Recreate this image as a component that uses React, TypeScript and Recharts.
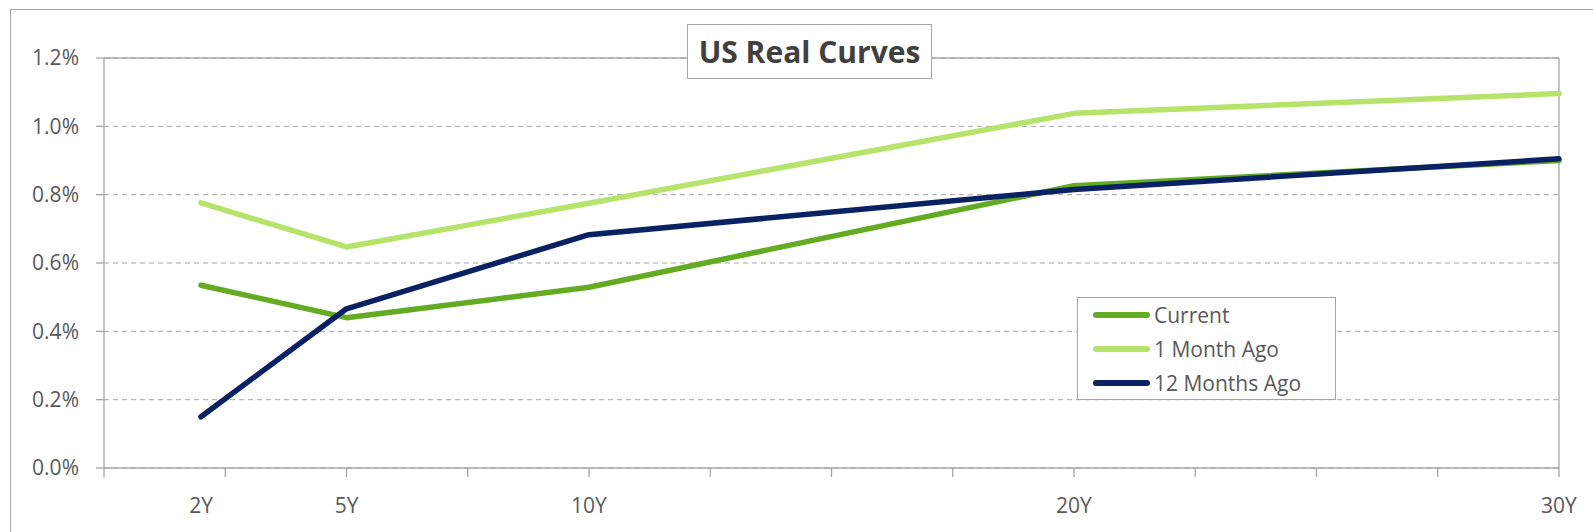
import React from 'react';
import { LineChart, Line, XAxis, YAxis, CartesianGrid, ReferenceLine, Legend } from 'recharts';

// ---- data ----
const tenorYears = [2, 5, 10, 20, 30];
const tenorLabels = ['2Y', '5Y', '10Y', '20Y', '30Y'];
const currentValues = [0.535, 0.44, 0.529, 0.826, 0.9];
const oneMonthAgoValues = [0.776, 0.647, 0.775, 1.038, 1.096];
const twelveMonthsAgoValues = [0.15, 0.466, 0.683, 0.815, 0.905];
const yTicks = [0, 0.2, 0.4, 0.6, 0.8, 1.0, 1.2];
const xMinorTicks = [0, 2.5, 5, 7.5, 10, 12.5, 15, 17.5, 20, 22.5, 25, 27.5, 30];
const seriesNames = ['Current', '1 Month Ago', '12 Months Ago'];
const seriesKeys = ['current', 'm1', 'm12'];
const seriesColors = ['#63AB22', '#B6E36A', '#0A2163'];
const title = 'US Real Curves';

const data = tenorYears.map((t, i) => ({
  t,
  current: currentValues[i],
  m1: oneMonthAgoValues[i],
  m12: twelveMonthsAgoValues[i],
}));
const xTicks = Array.from(new Set([...xMinorTicks, ...tenorYears])).sort((a, b) => a - b);

const AXIS = '#A6A6A6';
const TEXT = '#595959';
const FONT = '"Open Sans", sans-serif';

const XTick = (props: any) => {
  const { x, y, payload } = props;
  const v = payload.value;
  const isMinor = xMinorTicks.includes(v);
  const idx = tenorYears.indexOf(v);
  return (
    <g>
      {isMinor && <line x1={x} x2={x} y1={y - 9} y2={y} stroke={AXIS} strokeWidth={1.3} />}
      {idx >= 0 && (
        <text x={x} y={y + 36} textAnchor="middle" fill={TEXT} fontSize={21} fontFamily={FONT}>
          {tenorLabels[idx]}
        </text>
      )}
    </g>
  );
};

const renderLegend = (props: any) => {
  const payload = [...(props.payload || [])].sort(
    (a: any, b: any) => seriesNames.indexOf(a.value) - seriesNames.indexOf(b.value)
  );
  return (
    <div
      style={{
        border: `1px solid ${AXIS}`,
        background: '#fff',
        width: 259,
        height: 103,
        boxSizing: 'border-box',
        paddingTop: 0,
        fontFamily: FONT,
        fontSize: 21,
        color: TEXT,
      }}
    >
      {payload.map((p: any) => (
        <div key={p.value} style={{ display: 'flex', alignItems: 'center', height: 34 }}>
          <span
            style={{
              display: 'inline-block',
              width: 57,
              height: 6,
              borderRadius: 3,
              background: p.color,
              marginLeft: 15,
              marginRight: 4,
            }}
          />
          <span style={{ lineHeight: '34px' }}>{p.value}</span>
        </div>
      ))}
    </div>
  );
};

export default function App() {
  return (
    <div
      style={{
        position: 'absolute',
        left: 0,
        top: 0,
        width: 1593,
        height: 532,
        overflow: 'hidden',
        background: '#fff',
      }}
    >
      <div
        style={{
          position: 'absolute',
          left: 10,
          top: 9,
          width: 1620,
          height: 600,
          border: `1px solid ${AXIS}`,
        }}
      />
      <div style={{ position: 'absolute', left: 0, top: 0 }}>
        <LineChart width={1593} height={532} data={data} margin={{ top: 58, right: 34, left: 0, bottom: 0 }}>
          <CartesianGrid vertical={false} stroke={AXIS} strokeDasharray="5 4" horizontalValues={yTicks} />
          <XAxis
            dataKey="t"
            type="number"
            domain={[0, 30]}
            ticks={xTicks}
            interval={0}
            height={64}
            tickSize={9}
            tickMargin={0}
            tickLine={false}
            axisLine={{ stroke: AXIS, strokeWidth: 1.3 }}
            tick={<XTick />}
          />
          <YAxis
            type="number"
            domain={[0, 1.2]}
            ticks={yTicks}
            interval={0}
            width={104}
            tickSize={8}
            tickMargin={17}
            tickLine={{ stroke: AXIS, strokeWidth: 1.3 }}
            axisLine={{ stroke: AXIS, strokeWidth: 1.3 }}
            tick={{ fill: TEXT, fontSize: 21, fontFamily: FONT }}
            tickFormatter={(v: number) => v.toFixed(1) + '%'}
          />
          <ReferenceLine y={1.2} stroke={AXIS} strokeWidth={1.3} />
          <ReferenceLine x={30} stroke={AXIS} strokeWidth={1.3} />
          <Legend
            layout="vertical"
            align="center"
            verticalAlign="middle"
            content={renderLegend}
            wrapperStyle={{ position: 'absolute', left: 1077, top: 297, width: 259, height: 103 }}
          />
          {seriesKeys.map((k, i) => (
            <Line
              key={k}
              dataKey={k}
              name={seriesNames[i]}
              stroke={seriesColors[i]}
              strokeWidth={5.5}
              strokeLinecap="round"
              strokeLinejoin="round"
              dot={false}
              activeDot={false}
              isAnimationActive={false}
            />
          ))}
        </LineChart>
      </div>
      <div
        style={{
          position: 'absolute',
          left: 687,
          top: 24,
          width: 245,
          height: 55,
          boxSizing: 'border-box',
          border: `1px solid ${AXIS}`,
          background: '#fff',
          display: 'flex',
          alignItems: 'center',
          justifyContent: 'center',
          fontFamily: FONT,
          fontWeight: 700,
          fontSize: 30,
          color: '#404040',
        }}
      >
        {title}
      </div>
    </div>
  );
}
